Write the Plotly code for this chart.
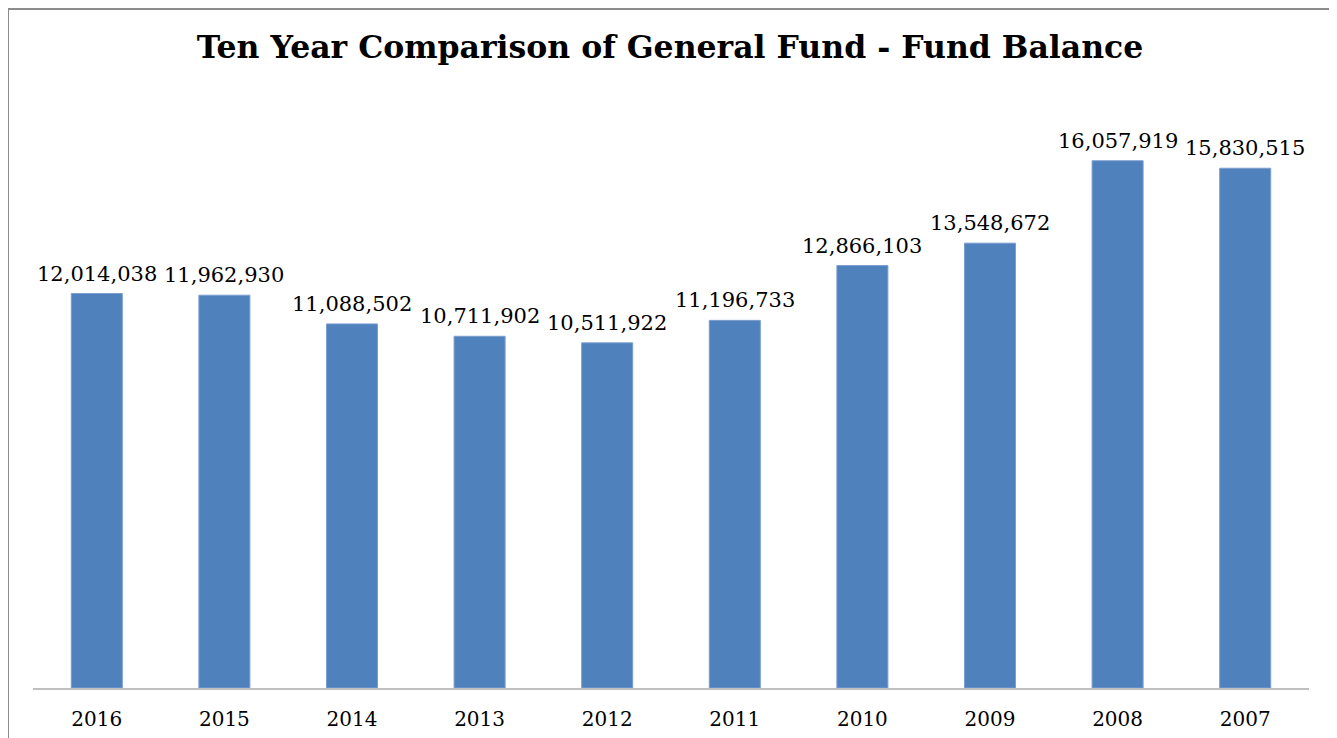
import plotly.graph_objects as go

years = ["2016", "2015", "2014", "2013", "2012", "2011", "2010", "2009", "2008", "2007"]
fund_balance = [12014038, 11962930, 11088502, 10711902, 10511922, 11196733,
                12866103, 13548672, 16057919, 15830515]
labels = [f"{v:,}" for v in fund_balance]

W, H = 1337, 738
L, R, T, B = 25, 36, 89, 58
PW, PH = W - L - R, H - T - B

fig = go.Figure()
fig.add_trace(go.Bar(
    x=years, y=fund_balance,
    marker=dict(color="#4F81BD", line=dict(color="#7A9FD0", width=1)),
    hoverinfo="x+y",
))

# category axis: numeric-looking strings are read as indices, so use the index
for i, (v, lab) in enumerate(zip(fund_balance, labels)):
    fig.add_annotation(x=i, y=v, text=lab, showarrow=False,
                       yanchor="bottom", yshift=6,
                       font=dict(family="DejaVu Serif", size=21, color="#000000"))

fig.update_layout(
    width=W, height=H,
    margin=dict(l=L, r=R, t=T, b=B),
    paper_bgcolor="white", plot_bgcolor="white",
    bargap=0.6,
    showlegend=False,
    title=dict(text="<b>Ten Year Comparison of General Fund - Fund Balance</b>",
               x=662 / W, xanchor="center", y=(H - 39) / H, yanchor="middle",
               font=dict(family="DejaVu Serif", size=31.5, color="#000000")),
    xaxis=dict(type="category", categoryorder="array", categoryarray=years,
               range=[-0.5, len(years) - 0.5],
               showline=True, linecolor="#BFBFBF", linewidth=1.5, ticks="",
               showgrid=False, ticklabelstandoff=12, automargin=False,
               tickfont=dict(family="DejaVu Serif", size=20, color="#000000")),
    yaxis=dict(range=[0, 18000000], visible=False, showgrid=False, zeroline=False,
               automargin=False),
    shapes=[dict(type="rect", xref="paper", yref="paper",
                 x0=(0 - L) / PW, x1=(1325 - L) / PW,
                 y0=-0.2, y1=(PH + T - 1) / PH,
                 line=dict(color="#8C8C8C", width=2), fillcolor="rgba(0,0,0,0)")],
)

fig.write_html("out.html")
